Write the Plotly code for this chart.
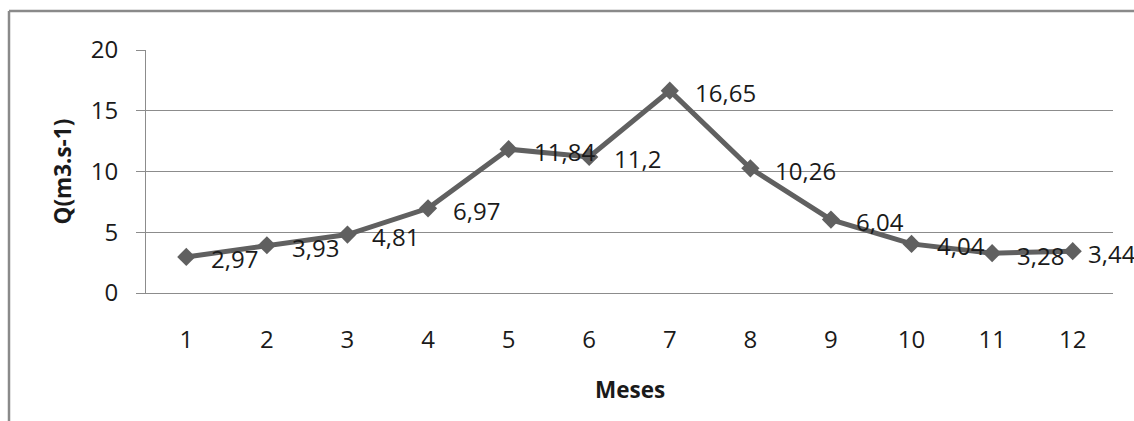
import plotly.graph_objects as go

meses = [1, 2, 3, 4, 5, 6, 7, 8, 9, 10, 11, 12]
vazao = [2.97, 3.93, 4.81, 6.97, 11.84, 11.2, 16.65, 10.26, 6.04, 4.04, 3.28, 3.44]
y_ticks = [0, 5, 10, 15, 20]
x_title = "Meses"
y_title = "Q(m3.s-1)"

labels = [f"{v:g}".replace(".", ",") for v in vazao]
label_shift = [23] * 11 + [13]

W, H = 1134, 421
PX0, PX1, PY0, PY1 = 146, 1113, 50, 293  # target plot area in window pixels
L, T = PX0, PY0
R = W - PX1
B = H - PY1
pw, ph = PX1 - PX0, PY1 - PY0

FONT = "Open Sans"
GRID = "#8c8c8c"
LINE = "#606060"
TXT = "#1a1a1a"

fig = go.Figure()
fig.add_trace(go.Scatter(
    x=meses, y=vazao, mode="lines+markers",
    line=dict(color=LINE, width=5),
    marker=dict(symbol="diamond", size=14, color=LINE),
    cliponaxis=False, showlegend=False, hoverinfo="skip",
))

for xv, yv, t, s in zip(meses, vazao, labels, label_shift):
    fig.add_annotation(x=xv, y=yv, text=t, showarrow=False, xanchor="left",
                       yanchor="middle", xshift=s, yshift=-2,
                       font=dict(family=FONT, size=24, color=TXT))

fig.add_annotation(xref="paper", yref="paper", x=(62 - PX0) / pw, y=0.5,
                   text=f"<b>{y_title}</b>", textangle=-90, showarrow=False,
                   xanchor="center", yanchor="middle",
                   font=dict(family=FONT, size=22.5, color=TXT))
fig.add_annotation(xref="paper", yref="paper", x=0.5, y=-(389 - PY1) / ph,
                   text=f"<b>{x_title}</b>", showarrow=False,
                   xanchor="center", yanchor="middle",
                   font=dict(family=FONT, size=22.5, color=TXT))

# outer chart border: only the top and left edges are inside the picture
bx0 = (9 - PX0) / pw
by1 = 1 + (PY0 - 11) / ph
fig.add_shape(type="line", xref="paper", yref="paper", x0=bx0, x1=1.5, y0=by1, y1=by1,
              line=dict(color="#8a8a8a", width=2.5), layer="below")
fig.add_shape(type="line", xref="paper", yref="paper", x0=bx0, x1=bx0, y0=-1.5, y1=by1,
              line=dict(color="#8a8a8a", width=2.5), layer="below")

fig.update_xaxes(
    range=[0.5, 12.5], tickvals=meses, ticktext=[str(m) for m in meses],
    showgrid=False, zeroline=False, showline=True, linecolor=GRID, linewidth=1,
    ticks="", ticklabelstandoff=25,
    tickfont=dict(family=FONT, size=24, color=TXT),
)
fig.update_yaxes(
    range=[0, 20], tickvals=y_ticks, showgrid=True, gridcolor=GRID, gridwidth=1,
    zeroline=False, showline=True, linecolor=GRID, linewidth=1,
    ticks="outside", ticklen=9, tickcolor=GRID, tickwidth=1, ticklabelstandoff=13,
    tickfont=dict(family=FONT, size=24, color=TXT),
)
fig.update_layout(
    width=W, height=H, margin=dict(l=L, r=R, t=T, b=B),
    paper_bgcolor="white", plot_bgcolor="white",
)
fig.write_html(
    "out.html",
    config={"displayModeBar": False},
    post_script="document.body.style.margin='0';document.body.style.overflow='hidden';",
)
